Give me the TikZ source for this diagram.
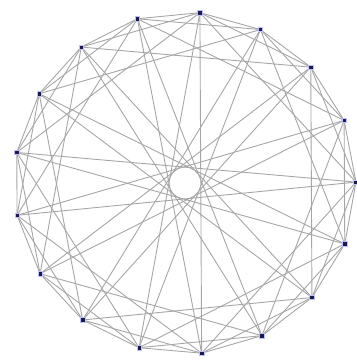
\documentclass[tikz,border=0pt]{standalone}
\usepackage{xcolor}
\usetikzlibrary{calc, backgrounds}
\definecolor{vnavy}{HTML}{1A1A4E}
\begin{document}
\begin{tikzpicture}[
    x=1pt, y=1pt,
    vertex/.style={rectangle, fill=vnavy, draw=blue!25, line width=0.6pt,
                   inner sep=0pt, minimum size=4.5pt},
    edge/.style={draw=gray!70, line width=0.9pt},
]
\useasboundingbox (0,0) rectangle (357,360);
\coordinate (c) at (185,177);
% seventeen vertices on the circle
\foreach \i in {0,...,16}
  \node[vertex] (v\i) at ($(c)+({85-\i*360/17}:171)$) {};
% joins for steps 1, 2, 4 and 8
\begin{scope}[on background layer]
  \foreach \i in {0,...,16}
    \foreach \s in {1,2,4,8} {
      \pgfmathtruncatemacro{\j}{mod(\i+\s,17)}
      \draw[edge] (v\i.center) -- (v\j.center);
    }
\end{scope}
\end{tikzpicture}
\end{document}
